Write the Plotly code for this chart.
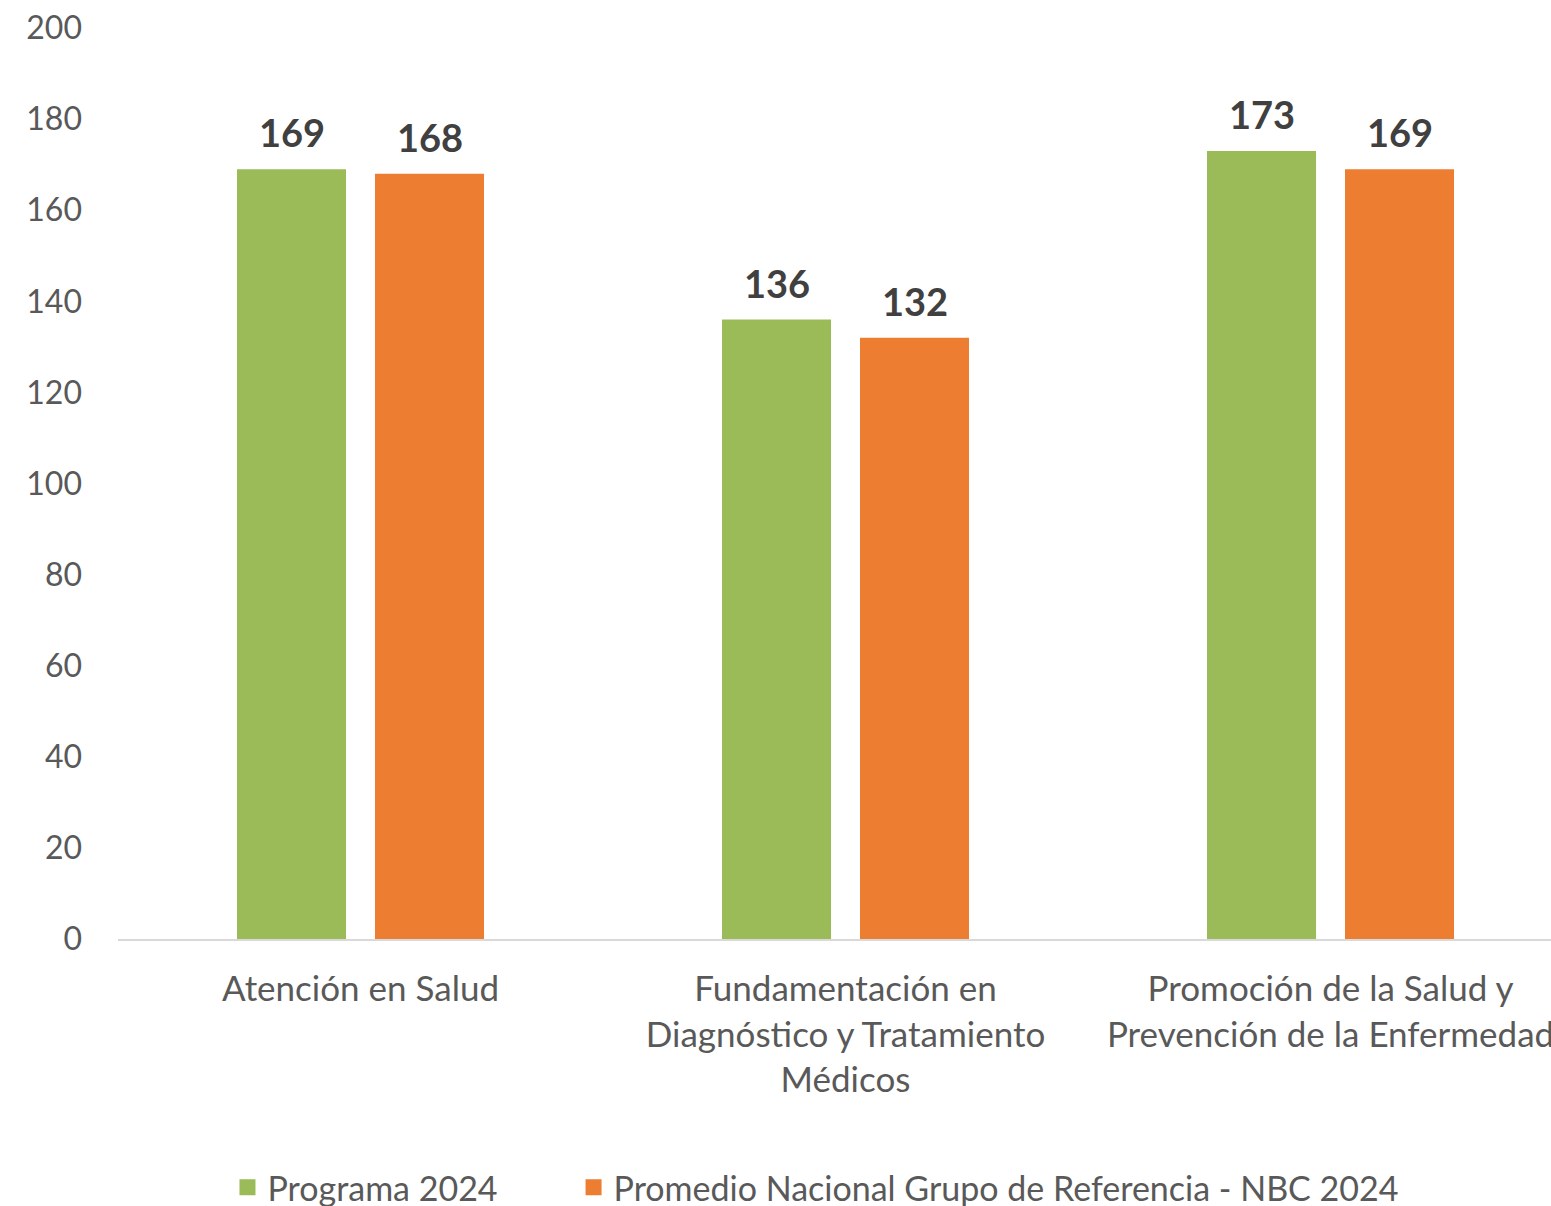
import plotly.graph_objects as go

categorias = [
    "Atención en Salud",
    "Fundamentación en<br>Diagnóstico y Tratamiento<br>Médicos",
    "Promoción de la Salud y<br>Prevención de la Enfermedad",
]
programa_2024 = [169, 136, 173]
promedio_nbc_2024 = [168, 132, 169]
y_ticks = [0, 20, 40, 60, 80, 100, 120, 140, 160, 180, 200]

FONT = "Lato"
GREEN = "#9bbb59"
ORANGE = "#ed7d31"

fig = go.Figure()
series = [
    ("Programa 2024", programa_2024, GREEN, -69, "legend"),
    ("Promedio Nacional Grupo de Referencia - NBC 2024", promedio_nbc_2024, ORANGE, 69, "legend2"),
]
for name, vals, color, shift, leg in series:
    fig.add_trace(go.Bar(
        x=categorias, y=vals, name=name, showlegend=False,
        marker=dict(color=color, line=dict(width=0)),
    ))
    # legend entry with a larger square swatch
    fig.add_trace(go.Scatter(
        x=[None], y=[None], mode="markers", name=name, legend=leg,
        marker=dict(symbol="square", size=21, color=color),
    ))
    for cat, v in zip(categorias, vals):
        fig.add_annotation(
            x=cat, y=v, text=str(v), showarrow=False, xshift=shift,
            yanchor="bottom", yshift=12,
            font=dict(family=FONT, size=38, color="#404040", weight="bold"),
        )

leg_style = dict(orientation="h", xanchor="left", y=-0.273, yanchor="middle",
                 font=dict(size=34, color="#595959"), itemsizing="trace")

fig.update_layout(
    width=1551, height=1206,
    margin=dict(l=118, r=0, t=28, b=267, autoexpand=False),
    paper_bgcolor="white", plot_bgcolor="white",
    barmode="group", bargap=0.431, bargroupgap=0.21,
    font=dict(family=FONT, size=32, color="#595959"),
    showlegend=True,
    legend=dict(x=0.0764, **leg_style),
    legend2=dict(x=0.3179, **leg_style),
    xaxis=dict(range=[-0.5, 2.4546], showline=True, linecolor="#d9d9d9", linewidth=2,
               ticks="", ticklabelstandoff=18, tickfont=dict(size=35)),
    yaxis=dict(range=[0, 200], tickvals=y_ticks, showgrid=False, zeroline=False,
               showline=False, ticks="", ticklabelstandoff=35, tickfont=dict(size=32)),
)

fig.write_html("out.html", config={"displayModeBar": False},
               post_script="document.body.style.margin='0';")
